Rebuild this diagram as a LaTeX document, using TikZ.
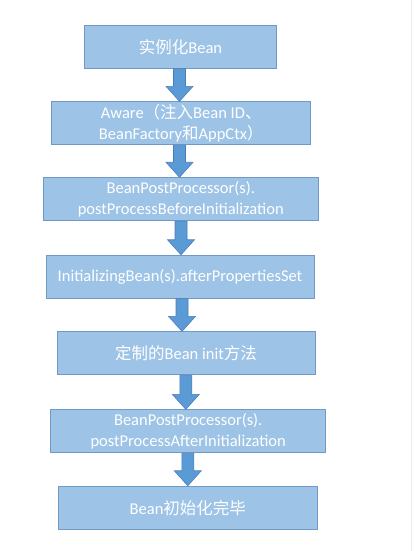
\documentclass[tikz,border=0pt]{standalone}
\usepackage{fontspec}
\setmainfont{Carlito}
\newfontfamily\cjk{Noto Sans CJK SC}
\usetikzlibrary{calc}

\definecolor{boxfill}{HTML}{9DC3E6}
\definecolor{boxline}{HTML}{7099C8}
\definecolor{arrfill}{HTML}{5B9BD5}
\definecolor{arrline}{HTML}{4A7EBB}

\tikzset{
  stage/.style={draw=boxline,fill=boxfill,line width=0.9pt,inner sep=0pt,
    minimum height=43pt,text=white,align=center,
    font=\fontsize{16.5}{21.5}\selectfont},
  blockarrow/.style={fill=arrfill,draw=arrline,line width=0.6pt}
}

% block arrow from #1 to #2 at horizontal position #3
\newcommand{\flowarrow}[3]{%
  \coordinate (ax) at (#3,0);
  \draw[blockarrow] ($(#1.south -| ax)+(-6,0)$) -- ($(#2.north -| ax)+(-6,-15)$)
    -- ($(#2.north -| ax)+(-13.5,-15)$) -- (#2.north -| ax)
    -- ($(#2.north -| ax)+(13.5,-15)$) -- ($(#2.north -| ax)+(6,-15)$)
    -- ($(#1.south -| ax)+(6,0)$) -- cycle;
}

\begin{document}
\begin{tikzpicture}[x=1pt,y=-1pt]
  \useasboundingbox[fill=white] (0,0) rectangle (414,551);
  \draw[black!8,line width=1pt] (411,0) -- (411,551);

  \node[stage,minimum width=192pt] (inst) at (180.5,46.7) {{\cjk 实例化}Bean};
  \node[stage,minimum width=259pt] (aware) at (181.2,123.3)
    {Aware{\cjk （注入}Bean ID{\cjk 、}\\BeanFactory{\cjk 和}AppCtx{\cjk ）}};
  \node[stage,minimum width=275pt] (before) at (180.8,199.2)
    {BeanPostProcessor(s).\\postProcessBeforeInitialization};
  \node[stage,minimum width=268pt] (afterset) at (180,276.7)
    {InitializingBean(s).afterPropertiesSet};
  \node[stage,minimum width=258pt] (init) at (186,353.3)
    {{\cjk 定制的}Bean init{\cjk 方法}};
  \node[stage,minimum width=275pt] (after) at (188.2,431.3)
    {BeanPostProcessor(s).\\postProcessAfterInitialization};
  \node[stage,minimum width=259pt] (done) at (187.8,507.7)
    {Bean{\cjk 初始化完毕}};

  \flowarrow{inst}{aware}{179.5}
  \flowarrow{aware}{before}{179.5}
  \flowarrow{before}{afterset}{181}
  \flowarrow{afterset}{init}{182}
  \flowarrow{init}{after}{185.8}
  \flowarrow{after}{done}{187.8}
\end{tikzpicture}
\end{document}
